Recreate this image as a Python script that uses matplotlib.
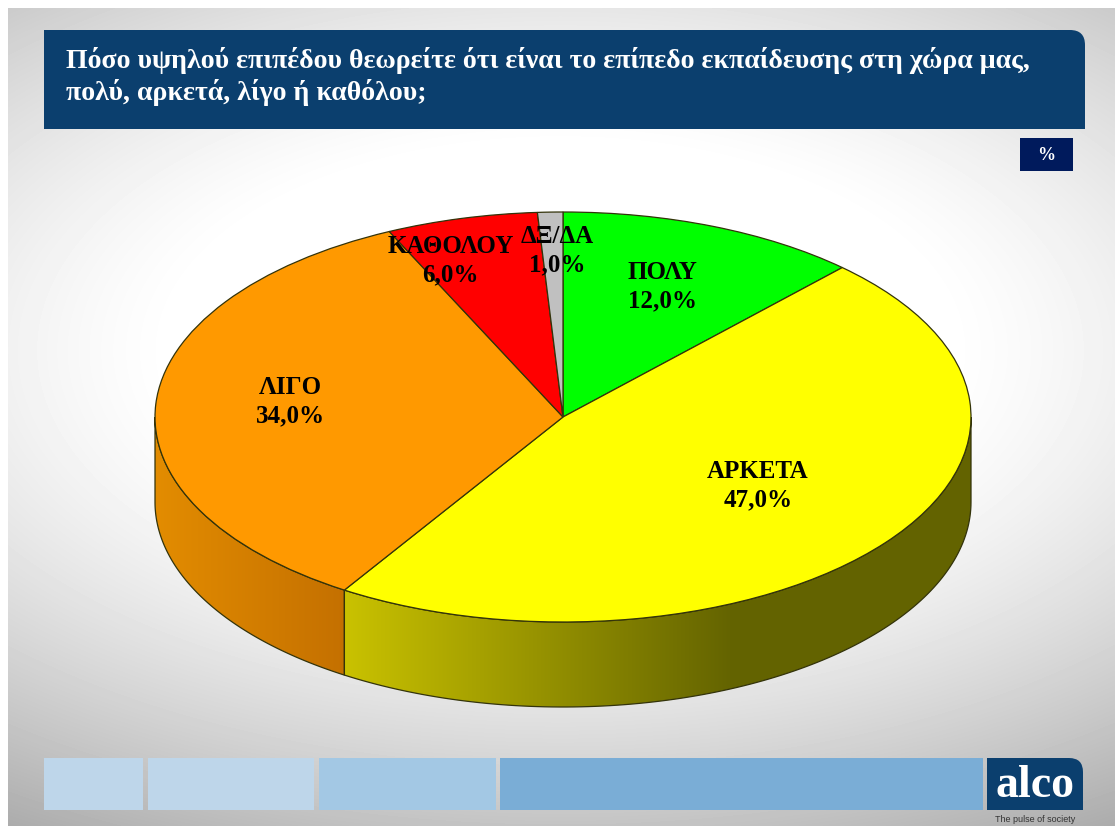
# Poll pie chart (fake 3D) with header and footer bands
import matplotlib
matplotlib.use('Agg')
import matplotlib.pyplot as plt
import numpy as np
from matplotlib.patches import Polygon, PathPatch, Rectangle
from matplotlib.path import Path

categories = ['ΠΟΛΥ', 'ΑΡΚΕΤΑ', 'ΛΙΓΟ', 'ΚΑΘΟΛΟΥ', 'ΔΞ/ΔΑ']
values = [12.0, 47.0, 34.0, 6.0, 1.0]
title_lines = ['Πόσο υψηλού επιπέδου θεωρείτε ότι είναι το επίπεδο εκπαίδευσης στη χώρα μας,',
               'πολύ, αρκετά, λίγο ή καθόλου;']

colors = ['#00FF00', '#FFFF00', '#FF9900', '#FF0000', '#C0C0C0']
# wall shading, left colour and right colour of each slice
wall_left = [(0, .6, 0), (.79, .76, 0), (.89, .55, 0), (.6, 0, 0), (.5, .5, .5)]
wall_right = [(0, .4, 0), (.39, .39, 0), (.77, .44, 0), (.4, 0, 0), (.4, .4, .4)]
# label centres in units of the ellipse radius
label_x = [.243, .478, -.667, -.275, -.015]
label_y = [.634, -.334, .076, .761, .810]

W, H = 1115, 826
cx, cy, rx, ry, depth = 563, 417, 408, 205, 85
plt.rcParams['font.family'] = ['Liberation Serif', 'DejaVu Serif']

fig = plt.figure(figsize=(W / 100, H / 100), dpi=100, facecolor='white')

# page layer in pixel coordinates
bg = fig.add_axes([0, 0, 1, 1])
bg.axis('off')

yy, xx = np.mgrid[8:H, 8:W]
t = np.sqrt(((xx - 560) / 850) ** 2 + ((yy - 350) / 450) ** 2)
shade = 1 - np.clip((t - .45) / .85, 0, 1) ** 1.3 * .36
bg.imshow(shade, extent=(8, W, H, 8), cmap='gray', vmin=0, vmax=1, aspect='auto', zorder=0)
bg.set_xlim(0, W)
bg.set_ylim(H, 0)


def tab(x0, y0, x1, y1, r, color):
    # box with rounded top right corner
    verts = [(x0, y0), (x1 - r, y0), (x1, y0), (x1, y0 + r), (x1, y1), (x0, y1), (x0, y0)]
    codes = [Path.MOVETO, Path.LINETO, Path.CURVE3, Path.CURVE3, Path.LINETO, Path.LINETO, Path.CLOSEPOLY]
    bg.add_patch(PathPatch(Path(verts, codes), facecolor=color, edgecolor='none', zorder=1))


tab(44, 30, 1085, 129, 15, '#0B3F6E')
bg.text(66, 60, title_lines[0], color='white', fontsize=20.1, fontweight='bold', va='center', ha='left', zorder=2)
bg.text(66, 93, title_lines[1], color='white', fontsize=20.1, fontweight='bold', va='center', ha='left', zorder=2)

bg.add_patch(Rectangle((1020, 138), 53, 33, facecolor='#001A5C', edgecolor='none', zorder=1))
bg.text(1046, 156, '%', color='white', fontsize=13, fontweight='bold', ha='center', va='center', zorder=2)

# footer bands
bg.add_patch(Rectangle((44, 758), 99, 52, facecolor='#BED6EA', edgecolor='none', zorder=1))
bg.add_patch(Rectangle((148, 758), 166, 52, facecolor='#BED6EA', edgecolor='none', zorder=1))
bg.add_patch(Rectangle((319, 758), 177, 52, facecolor='#A3C8E4', edgecolor='none', zorder=1))
bg.add_patch(Rectangle((500, 758), 483, 52, facecolor='#7AADD6', edgecolor='none', zorder=1))
tab(987, 758, 1083, 810, 14, '#0B3F6E')
bg.text(1035, 786, 'alco', color='white', fontsize=33, fontweight='bold', ha='center', va='center', zorder=2)
bg.text(1035, 819, 'The pulse of society', color='#333333', fontsize=6.5, family='Liberation Sans',
        ha='center', va='center', zorder=2)

# pie layer, one data unit is the radius of the ellipse
ax = fig.add_axes([0, 0, 1, 1], facecolor='none')
wedges, _ = ax.pie(values, colors=colors, startangle=90, counterclock=False, radius=1,
                   wedgeprops={'edgecolor': '#33330A', 'linewidth': .9, 'zorder': 3})
ax.set_aspect('auto')
dz = depth / ry
xlim = (-cx / rx, (W - cx) / rx)
ylim = ((cy - H) / ry, cy / ry)

# side wall of the slices that face the viewer, angles clockwise from the top
edges = np.cumsum([0] + values) / sum(values) * 360
for i, name in enumerate(categories):
    a0, a1 = max(edges[i], 90), min(edges[i + 1], 270)
    if a0 < a1:
        a = np.radians(np.linspace(a0, a1, 120))
        top = np.column_stack([np.sin(a), np.cos(a)])
        low = (top - [0, dz])[::-1]
        poly = Polygon(np.vstack([top, low]), closed=True, facecolor='none',
                       edgecolor='#33330A', linewidth=.9, zorder=2)
        ax.add_patch(poly)
        # the big slice reaches its darkest tone before the right side
        x0, x1 = top[:, 0].min(), top[:, 0].max()
        s = np.linspace(0, 1, 256)
        if i == 1:
            s = np.clip(s / .62, 0, 1)
        grad = np.array([[(1 - v) * wall_left[i][k] + v * wall_right[i][k] for k in range(3)] for v in s])[None, :, :]
        im = ax.imshow(grad, extent=(x0, x1, -1 - dz, 1), aspect='auto', zorder=1, interpolation='bilinear')
        im.set_clip_path(poly)

ax.set_xlim(*xlim)
ax.set_ylim(*ylim)
ax.axis('off')

# slice labels
for i, name in enumerate(categories):
    txt = f'{name}\n{values[i]:.1f}%'.replace('.', ',')
    ax.text(label_x[i], label_y[i], txt, color='black', fontsize=18,
            fontweight='bold', ha='center', va='center', linespacing=1.3, zorder=5)

plt.savefig('out.png', dpi=100)
